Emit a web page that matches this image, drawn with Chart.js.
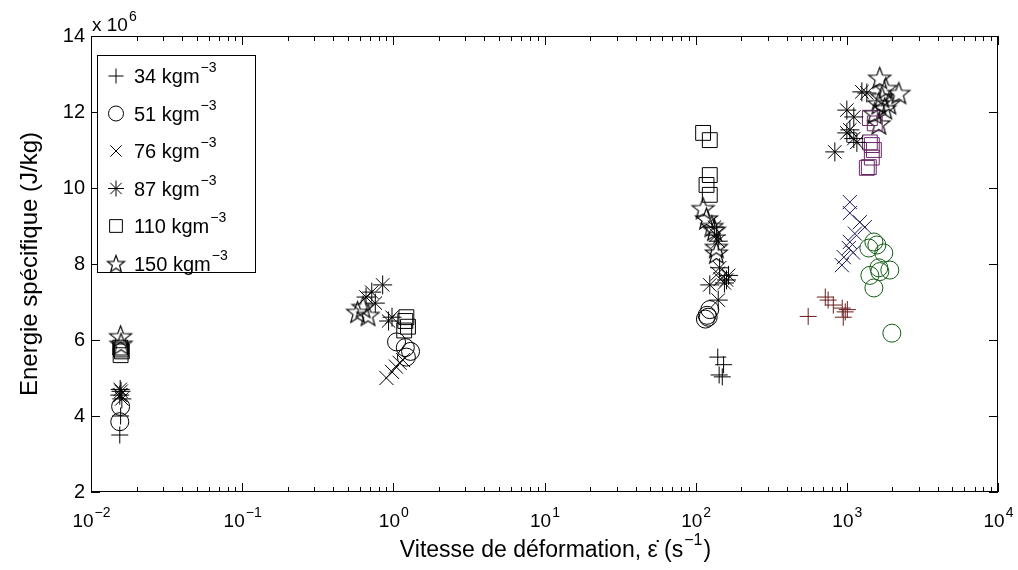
<!DOCTYPE html>
<html>
<head>
<meta charset="utf-8">
<script src="https://cdn.jsdelivr.net/npm/chart.js@4.4.1/dist/chart.umd.min.js"></script>
<style>
html, body { margin: 0; padding: 0; background: #fff; }
</style>
</head>
<body>
<canvas id="myChart" width="1018" height="570"></canvas>
<script>
// densities (kg/m3) used as legend names
const densities = ['34', '51', '76', '87', '110', '150'];

// strain rate (1/s) and specific energy (x 10^6 J/kg) per density
const x34 = [0.0155, 0.0157, 140, 153, 143, 150, 555, 720, 752, 814, 932, 976, 947, 1008];
const y34 = [3.5, 4.0, 5.55, 5.35, 5.08, 5.03, 6.62, 7.13, 7.05, 6.92, 6.84, 6.74, 6.6, 6.8];

const x51 = [0.0155, 0.0157, 1.05, 1.2, 1.3, 1.22, 119, 116, 121, 124, 1510, 1580, 1756, 1398, 1925, 1628, 1652, 1420, 1510, 1985];
const y51 = [3.85, 4.25, 5.95, 5.8, 5.7, 5.55, 6.65, 6.55, 6.6, 6.8, 8.58, 8.5, 8.29, 8.42, 7.84, 7.9, 7.8, 7.7, 7.37, 6.18];

const x76 = [0.0157, 0.9, 0.98, 1.04, 1.1, 1.16, 140, 146, 1047, 1047, 1219, 1315, 1130, 1047, 1031, 955, 927, 1100];
const y76 = [4.55, 5.0, 5.16, 5.3, 5.4, 5.47, 7.75, 7.6, 9.63, 9.34, 9.1, 8.97, 8.8, 8.58, 8.42, 8.18, 7.97, 8.3];

const x87 = [0.0155, 0.0158, 0.016, 0.0156, 0.85, 0.72, 0.66, 0.76, 0.98, 0.93, 133, 137, 141, 144, 160, 155, 124, 141, 165, 1257, 1356, 1000, 1112, 1047, 1000, 1112, 1165, 833];
const y87 = [4.55, 4.65, 4.45, 4.7, 7.45, 7.26, 7.13, 6.97, 6.6, 6.5, 8.97, 8.76, 8.6, 7.9, 7.58, 7.5, 7.45, 7.05, 7.7, 12.53, 12.5, 12.05, 11.87, 11.53, 11.45, 11.3, 11.2, 10.95];

const x110 = [0.0158, 0.0157, 0.016, 0.0156, 1.2, 1.25, 1.18, 1.22, 112, 124, 124, 118, 124, 1420, 1530, 1420, 1463, 1510, 1463, 1398, 1356];
const y110 = [5.75, 5.6, 5.7, 5.8, 6.5, 6.35, 6.25, 6.6, 11.45, 11.26, 10.34, 10.08, 9.82, 11.84, 11.7, 11.2, 11.13, 11.0, 10.8, 10.55, 10.53];

const x150 = [0.0157, 0.0158, 0.58, 0.63, 0.68, 112, 118, 128, 133, 137, 137, 1650, 1810, 2208, 1704, 1628, 1897, 1783, 1531, 1628];
const y150 = [6.1, 5.9, 6.74, 6.87, 6.66, 9.47, 9.2, 9.0, 8.9, 8.45, 8.3, 12.9, 12.63, 12.5, 12.4, 12.23, 12.23, 12.1, 11.97, 11.7];

// x axis decades for tick labels (10^n)
const xDecades = [-2, -1, 0, 1, 2, 3, 4];

const allX = [x34, x51, x76, x87, x110, x150];
const allY = [y34, y51, y76, y87, y110, y150];

// colour of the high-rate (Hopkinson bar) tests, black otherwise
const hiColors = ['#6b1c1c', '#145c14', '#18185a', '#000000', '#6a2868', '#000000'];
const hiRate = 500;

Chart.defaults.font.family = '"Liberation Sans", Arial, Helvetica, sans-serif';
Chart.defaults.color = '#000';

function makeStar(rOut) {
    const c = document.createElement('canvas');
    const size = Math.ceil(rOut * 2 + 4);
    c.width = size; c.height = size;
    const g = c.getContext('2d');
    const cx = size / 2, cy = size / 2 + rOut * 0.1;
    const rIn = rOut * 0.42;
    g.beginPath();
    for (let k = 0; k < 10; k++) {
        const r = k % 2 === 0 ? rOut : rIn;
        const a = -Math.PI / 2 + k * Math.PI / 5;
        const px = cx + r * Math.cos(a), py = cy + r * Math.sin(a);
        if (k === 0) g.moveTo(px, py); else g.lineTo(px, py);
    }
    g.closePath();
    g.strokeStyle = '#000';
    g.lineWidth = 1.2;
    g.stroke();
    return c;
}

const starBig = makeStar(11.5);
const starSmall = makeStar(9);

const styles = ['cross', 'circle', 'crossRot', 'star', 'rect', starBig];
const legendStyles = ['cross', 'circle', 'crossRot', 'star', 'rect', starSmall];
const radii = [8.5, 9, 10, 9.5, 10.5, 10];
const legendRadii = [7.5, 7.5, 8, 8, 9, 8];

const datasets = densities.map((d, i) => ({
    label: d + ' kgm⁻³',
    data: allX[i].map((v, j) => ({ x: v, y: allY[i][j] })),
    pointStyle: styles[i],
    pointRadius: radii[i],
    pointBorderWidth: 1,
    pointBackgroundColor: 'rgba(0,0,0,0)',
    pointBorderColor: c => (c.raw && c.raw.x > hiRate) ? hiColors[i] : '#000',
    showLine: false
}));

function drawSup(ctx, base, sup, x, y, size, align) {
    ctx.font = size + 'px "Liberation Sans", Arial, sans-serif';
    const wb = ctx.measureText(base).width;
    const supSize = Math.round(size * 0.72);
    ctx.font = supSize + 'px "Liberation Sans", Arial, sans-serif';
    const ws = ctx.measureText(sup).width;
    let x0 = x;
    if (align === 'center') x0 = x - (wb + ws) / 2;
    ctx.textAlign = 'left';
    ctx.textBaseline = 'alphabetic';
    ctx.font = size + 'px "Liberation Sans", Arial, sans-serif';
    ctx.fillText(base, x0, y);
    ctx.font = supSize + 'px "Liberation Sans", Arial, sans-serif';
    ctx.fillText(sup, x0 + wb + 1, y - size * 0.55);
    return x0 + wb + 1 + ws;
}

const axesPlugin = {
    id: 'axesPlugin',
    afterDatasetsDraw(chart) {
        const ctx = chart.ctx;
        const a = chart.chartArea;
        const xs = chart.scales.x, ys = chart.scales.y;
        ctx.save();
        ctx.strokeStyle = '#000';
        ctx.fillStyle = '#000';
        ctx.lineWidth = 1;
        ctx.strokeRect(a.left + 0.5, a.top + 0.5, a.right - a.left - 1, a.bottom - a.top - 1);

        // inward ticks, y
        ctx.beginPath();
        ys.ticks.forEach(t => {
            const py = Math.round(ys.getPixelForValue(t.value)) + 0.5;
            ctx.moveTo(a.left, py); ctx.lineTo(a.left + 9, py);
            ctx.moveTo(a.right, py); ctx.lineTo(a.right - 9, py);
        });
        // inward ticks, x (log major + minor)
        for (let e = -2; e < 4; e++) {
            for (let m = 1; m <= 10; m++) {
                const px = Math.round(xs.getPixelForValue(m * Math.pow(10, e))) + 0.5;
                const len = (m === 1 || m === 10) ? 9 : 5;
                ctx.moveTo(px, a.bottom); ctx.lineTo(px, a.bottom - len);
                ctx.moveTo(px, a.top); ctx.lineTo(px, a.top + len);
            }
        }
        ctx.stroke();

        // x tick labels 10^n
        xDecades.forEach(e => {
            const px = xs.getPixelForValue(Math.pow(10, e));
            drawSup(ctx, '10', (e < 0 ? '\u2212' + (-e) : '' + e), px, 527, 19, 'center');
        });

        // multiplier
        drawSup(ctx, 'x 10', '6', a.left + 1, 31, 19, 'left');

        // x title
        const fs = 23;
        ctx.font = fs + 'px "Liberation Sans", Arial, sans-serif';
        const t1 = 'Vitesse de déformation, ε\u0307 (s';
        const w1 = ctx.measureText(t1).width;
        ctx.font = '16px "Liberation Sans", Arial, sans-serif';
        const w2 = ctx.measureText('\u22121').width;
        ctx.font = fs + 'px "Liberation Sans", Arial, sans-serif';
        const w3 = ctx.measureText(')').width;
        let x0 = (a.left + a.right) / 2 + 10 - (w1 + w2 + w3) / 2;
        const base = 557;
        ctx.textAlign = 'left';
        ctx.fillText(t1, x0, base);
        ctx.font = '16px "Liberation Sans", Arial, sans-serif';
        ctx.fillText('\u22121', x0 + w1 + 1, base - 12);
        ctx.font = fs + 'px "Liberation Sans", Arial, sans-serif';
        ctx.fillText(')', x0 + w1 + w2 + 2, base);

        // y title
        ctx.save();
        ctx.translate(30, (a.top + a.bottom) / 2);
        ctx.rotate(-Math.PI / 2);
        ctx.textAlign = 'center';
        ctx.textBaseline = 'middle';
        ctx.font = '24px "Liberation Sans", Arial, sans-serif';
        ctx.fillText('Energie spécifique (J/kg)', 0, 0);
        ctx.restore();

        // legend box
        const lx = 97, ly = 55, lw = 158, lh = 217;
        ctx.fillStyle = '#fff';
        ctx.fillRect(lx, ly, lw, lh);
        ctx.strokeStyle = '#000';
        ctx.strokeRect(lx + 0.5, ly + 0.5, lw, lh);
        densities.forEach((d, i) => {
            const ry = 76 + i * 37.5;
            ctx.strokeStyle = '#000';
            ctx.fillStyle = 'rgba(0,0,0,0)';
            ctx.lineWidth = 1;
            Chart.helpers.drawPoint(ctx, {
                pointStyle: legendStyles[i], radius: legendRadii[i], rotation: 0, borderWidth: 1
            }, 116, ry);
            ctx.fillStyle = '#000';
            drawSup(ctx, d + ' kgm', '\u22123', 134, ry + 7, 20, 'left');
        });
        ctx.restore();
    }
};

new Chart(document.getElementById('myChart'), {
    type: 'scatter',
    data: { datasets: datasets },
    options: {
        responsive: false,
        animation: false,
        devicePixelRatio: 1,
        events: [],
        layout: { padding: { left: 0, right: 20, top: 36, bottom: 0 } },
        plugins: { legend: { display: false }, tooltip: { enabled: false } },
        scales: {
            x: {
                type: 'logarithmic', min: 0.01, max: 10000,
                ticks: { display: false },
                grid: { display: false, drawTicks: false },
                border: { display: false },
                afterFit: s => { s.height = 78; }
            },
            y: {
                min: 2, max: 14,
                ticks: { stepSize: 2, color: '#000', font: { size: 20 }, padding: 6 },
                grid: { display: false, drawTicks: false },
                border: { display: false },
                afterFit: s => { s.width = 91; }
            }
        }
    },
    plugins: [axesPlugin]
});
</script>
</body>
</html>
